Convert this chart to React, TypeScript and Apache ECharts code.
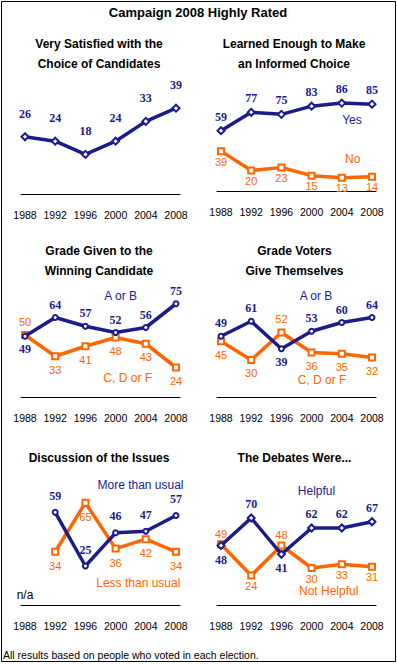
import React, { useEffect, useRef } from "react";
import * as echarts from "echarts";

// ---------- data ----------
const years = [1988, 1992, 1996, 2000, 2004, 2008];

const satisfied = [26, 24, 18, 24, 33, 39];
const learnedYes = [59, 77, 75, 83, 86, 85];
const learnedNo = [39, 20, 23, 15, 13, 14];
const winnerAB = [49, 64, 57, 52, 56, 75];
const winnerCDF = [50, 33, 41, 48, 43, 24];
const selfAB = [49, 61, 39, 53, 60, 64];
const selfCDF = [45, 30, 52, 36, 35, 32];
const issuesMore: (number | null)[] = [null, 59, 25, 46, 47, 57];
const issuesLess: (number | null)[] = [null, 34, 65, 36, 42, 34];
const debatesHelpful = [48, 70, 41, 62, 62, 67];
const debatesNotHelpful = [49, 24, 48, 30, 33, 31];

const mainTitle = "Campaign 2008 Highly Rated";
const footnote = "All results based on people who voted in each election.";

// ---------- styles ----------
const BLUE = "#1b1b8c";
const ORANGE = "#ff6600";
const SANS = "'Liberation Sans', Arial, sans-serif";
const SERIF = "'Liberation Serif', 'Times New Roman', serif";

type SeriesDef = {
  values: (number | null)[];
  other?: (number | null)[];
  blue: boolean;
  symbol: string;
  dist: number;
};

type Panel = {
  left: number;
  zero: number;
  scale: number;
  max: number;
  title: string[];
  titleX: number;
  titleY: number;
  series: SeriesDef[];
  notes: { text: string; x: number; y: number; color: string }[];
};

const panels: Panel[] = [
  {
    left: 21, zero: 194, scale: 2.2, max: 50,
    title: ["Very Satisfied with the", "Choice of Candidates"], titleX: 99, titleY: 44,
    series: [{ values: satisfied, blue: true, symbol: "emptyDiamond", dist: 12.5 }],
    notes: [],
  },
  {
    left: 217, zero: 191, scale: 1.022, max: 100,
    title: ["Learned Enough to Make", "an Informed Choice"], titleX: 294, titleY: 44,
    series: [
      { values: learnedYes, other: learnedNo, blue: true, symbol: "emptyDiamond", dist: 3.5 },
      { values: learnedNo, other: learnedYes, blue: false, symbol: "emptyRect", dist: 1 },
    ],
    notes: [
      { text: "Yes", x: 352, y: 120, color: BLUE },
      { text: "No", x: 352.7, y: 159.3, color: ORANGE },
    ],
  },
  {
    left: 21, zero: 397.5, scale: 1.25, max: 80,
    title: ["Grade Given to the", "Winning Candidate"], titleX: 99, titleY: 251,
    series: [
      { values: winnerAB, other: winnerCDF, blue: true, symbol: "emptyCircle", dist: 3.5 },
      { values: winnerCDF, other: winnerAB, blue: false, symbol: "emptyRect", dist: 4 },
    ],
    notes: [
      { text: "A or B", x: 120.7, y: 296, color: BLUE },
      { text: "C, D or F", x: 127.7, y: 378, color: ORANGE },
    ],
  },
  {
    left: 217, zero: 397.5, scale: 1.25, max: 80,
    title: ["Grade Voters", "Give Themselves"], titleX: 294.5, titleY: 251,
    series: [
      { values: selfAB, other: selfCDF, blue: true, symbol: "emptyCircle", dist: 3.5 },
      { values: selfCDF, other: selfAB, blue: false, symbol: "emptyRect", dist: 3.8 },
    ],
    notes: [
      { text: "A or B", x: 316, y: 296, color: BLUE },
      { text: "C, D or F", x: 322, y: 379.5, color: ORANGE },
    ],
  },
  {
    left: 21, zero: 605.5, scale: 1.58, max: 70,
    title: ["Discussion of the Issues"], titleX: 99, titleY: 458,
    series: [
      { values: issuesMore, other: issuesLess, blue: true, symbol: "emptyCircle", dist: 7 },
      { values: issuesLess, other: issuesMore, blue: false, symbol: "emptyRect", dist: 4.5 },
    ],
    notes: [
      { text: "More than usual", x: 140.5, y: 485, color: BLUE },
      { text: "Less than usual", x: 138.3, y: 582.7, color: ORANGE },
      { text: "n/a", x: 25, y: 595, color: "#000" },
    ],
  },
  {
    left: 217, zero: 605.5, scale: 1.25, max: 80,
    title: ["The Debates Were..."], titleX: 294.5, titleY: 458,
    series: [
      { values: debatesHelpful, other: debatesNotHelpful, blue: true, symbol: "emptyDiamond", dist: 3.5 },
      { values: debatesNotHelpful, other: debatesHelpful, blue: false, symbol: "emptyRect", dist: 1 },
    ],
    notes: [
      { text: "Helpful", x: 316.5, y: 490.7, color: BLUE },
      { text: "Not Helpful", x: 328.7, y: 590.5, color: ORANGE },
    ],
  },
];

const H = 664;
const PX_PER_YEAR = 151 / 20;
const EXT = 4 / PX_PER_YEAR;

function buildOption() {
  const grid: any[] = [];
  const xAxis: any[] = [];
  const yAxis: any[] = [];
  const series: any[] = [];
  const graphic: any[] = [];

  graphic.push({
    type: "rect",
    shape: { x: 1.5, y: 1.5, width: 394, height: 660 },
    style: { fill: "none", stroke: "#000", lineWidth: 1 },
    silent: true,
  });
  graphic.push({
    type: "text",
    x: 198, y: 12.5,
    style: {
      text: mainTitle, fill: "#000", font: `bold 13px ${SANS}`,
      textAlign: "center", textVerticalAlign: "middle", align: "center", verticalAlign: "middle",
    },
  });
  graphic.push({
    type: "text",
    x: 3, y: 655,
    style: {
      text: footnote, fill: "#000", font: `10.5px ${SANS}`,
      textAlign: "left", textVerticalAlign: "middle", align: "left", verticalAlign: "middle",
    },
  });

  panels.forEach((p, i) => {
    const height = p.max * p.scale;
    grid.push({ left: p.left, width: 159, top: p.zero - height, height, containLabel: false });
    xAxis.push({
      type: "value",
      gridIndex: i,
      min: 1988 - EXT,
      max: 2008 + EXT,
      axisLine: { show: true, lineStyle: { color: "#000", width: 1 } },
      axisTick: { show: false },
      splitLine: { show: false },
      axisLabel: {
        show: true,
        customValues: years,
        formatter: (v: number) => String(Math.round(v)),
        color: "#000",
        fontSize: 10.5,
        fontFamily: SANS,
        margin: 15,
      },
    });
    yAxis.push({ type: "value", gridIndex: i, min: 0, max: p.max, show: false });

    p.series.forEach((s) => {
      const color = s.blue ? BLUE : ORANGE;
      const data = years.map((yr, k) => {
        const v = s.values[k];
        if (v == null) return { value: [yr, "-"] };
        const o = s.other ? s.other[k] : null;
        let pos = s.blue ? "top" : "bottom";
        if (o != null && Math.abs(v - o) < 15 && (s.blue ? v < o : v > o)) {
          pos = s.blue ? "bottom" : "top";
        }
        return { value: [yr, v], label: { position: pos } };
      });
      series.push({
        type: "line",
        xAxisIndex: i,
        yAxisIndex: i,
        data,
        symbol: s.symbol,
        symbolSize: s.symbol === "emptyCircle" ? 5 : s.symbol === "emptyDiamond" ? 7 : 6,
        showAllSymbol: true,
        lineStyle: { color, width: 3.5 },
        itemStyle: { color, borderColor: color, borderWidth: 1.2 },
        label: {
          show: true,
          distance: s.dist,
          color,
          fontFamily: s.blue ? SERIF : SANS,
          fontWeight: s.blue ? "bold" : "normal",
          fontSize: s.blue ? 12 : 11,
        },
        emphasis: { disabled: true },
        z: s.blue ? 3 : 2,
      });
    });

    p.title.forEach((t, j) => {
      graphic.push({
        type: "text",
        x: p.titleX, y: p.titleY + j * 20,
        style: {
          text: t, fill: "#000", font: `bold 12px ${SANS}`,
          textAlign: "center", textVerticalAlign: "middle", align: "center", verticalAlign: "middle",
        },
      });
    });
    p.notes.forEach((n) => {
      graphic.push({
        type: "text",
        x: n.x, y: n.y,
        style: {
          text: n.text, fill: n.color, font: `12px ${SANS}`,
          textAlign: "center", textVerticalAlign: "middle", align: "center", verticalAlign: "middle",
        },
      });
    });
  });

  return {
    animation: false,
    backgroundColor: "#fff",
    grid,
    xAxis,
    yAxis,
    series,
    graphic,
  };
}

export default function App() {
  const ref = useRef<HTMLDivElement>(null);
  useEffect(() => {
    if (!ref.current) return;
    const chart = echarts.init(ref.current, undefined, { renderer: "svg" });
    chart.setOption(buildOption() as any);
    return () => chart.dispose();
  }, []);
  return (
    <div
      ref={ref}
      style={{ position: "absolute", left: 0, top: 0, width: 397, height: H, background: "#fff" }}
    />
  );
}
